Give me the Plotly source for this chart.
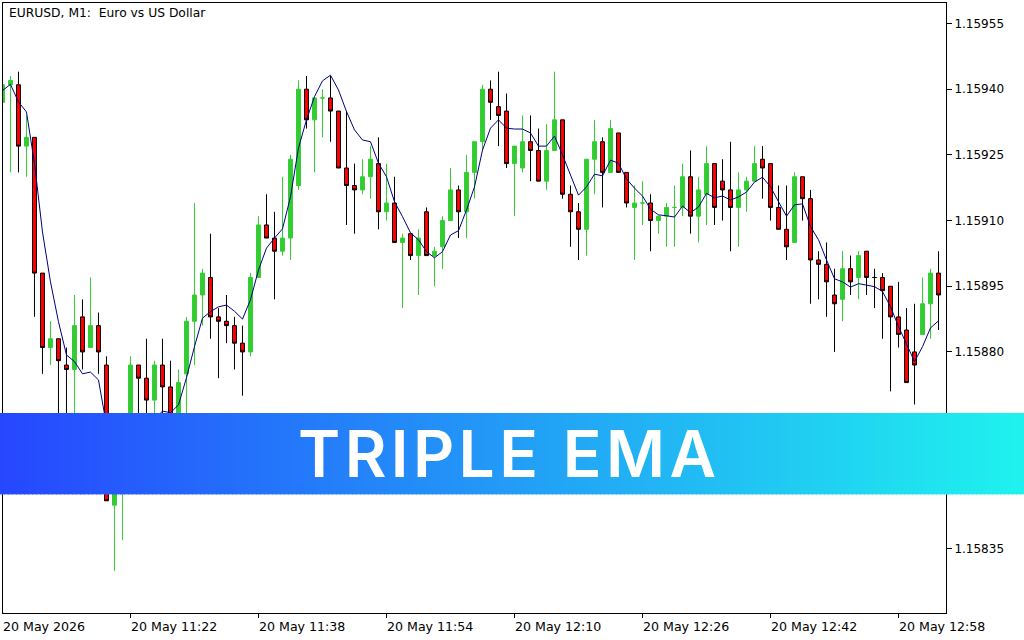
# Triple EMA indicator on a EURUSD M1 candle chart, with the title banner on top.

import pandas as pd
import plotly.graph_objects as go

PAIR_TITLE = "EURUSD, M1:  Euro vs US Dollar"
BANNER_TEXT = "TRIPLE EMA"
FIRST_BAR = "2026-05-20 11:06"

open_px = [
    1.15937, 1.15941, 1.15941, 1.15927, 1.15929, 1.15898, 1.15881, 1.15883, 1.15877, 1.15876,
    1.15888, 1.15881, 1.15886, 1.15877, 1.15845, 1.15853, 1.15863, 1.15877, 1.15874, 1.15869,
    1.15877, 1.15872, 1.15865, 1.15875, 1.15887, 1.15893, 1.15897, 1.15888, 1.15887, 1.15886,
    1.15882, 1.15880, 1.15897, 1.15909, 1.15906, 1.15903, 1.15906, 1.15918, 1.15940, 1.15933,
    1.15938, 1.15938, 1.15935, 1.15922, 1.15918, 1.15917, 1.15920, 1.15923, 1.15912, 1.15914,
    1.15905, 1.15907, 1.15902, 1.15912, 1.15902, 1.15904, 1.15910, 1.15917, 1.15912, 1.15921,
    1.15928, 1.15940, 1.15936, 1.15935, 1.15923, 1.15922, 1.15928, 1.15926, 1.15919, 1.15926,
    1.15933, 1.15916, 1.15912, 1.15908, 1.15924, 1.15928, 1.15921, 1.15930, 1.15921, 1.15913,
    1.15914, 1.15914, 1.15910, 1.15911, 1.15913, 1.15913, 1.15920, 1.15911, 1.15916, 1.15923,
    1.15919, 1.15917, 1.15913, 1.15917, 1.15919, 1.15924, 1.15923, 1.15913, 1.15908, 1.15905,
    1.15920, 1.15915, 1.15901, 1.15900, 1.15893, 1.15892, 1.15899, 1.15897, 1.15903, 1.15897,
    1.15897, 1.15895, 1.15888, 1.15885, 1.15880, 1.15884, 1.15891, 1.15898,
]
high_px = [
    1.15942, 1.15943, 1.15944, 1.15934, 1.15929, 1.15898, 1.15887, 1.15883, 1.15881, 1.15893,
    1.15892, 1.15897, 1.15889, 1.15879, 1.15863, 1.15864, 1.15879, 1.15877, 1.15883, 1.15878,
    1.15883, 1.15878, 1.15876, 1.15888, 1.15914, 1.15899, 1.15907, 1.15890, 1.15893, 1.15888,
    1.15886, 1.15898, 1.15911, 1.15916, 1.15912, 1.15920, 1.15925, 1.15942, 1.15943, 1.15938,
    1.15940, 1.15943, 1.15935, 1.15935, 1.15923, 1.15924, 1.15927, 1.15929, 1.15923, 1.15920,
    1.15907, 1.15907, 1.15908, 1.15913, 1.15904, 1.15911, 1.15922, 1.15918, 1.15925, 1.15928,
    1.15941, 1.15942, 1.15944, 1.15939, 1.15927, 1.15934, 1.15934, 1.15931, 1.15932, 1.15944,
    1.15933, 1.15918, 1.15914, 1.15924, 1.15933, 1.15929, 1.15933, 1.15930, 1.15921, 1.15918,
    1.15919, 1.15916, 1.15911, 1.15914, 1.15918, 1.15923, 1.15926, 1.15920, 1.15927, 1.15923,
    1.15924, 1.15928, 1.15921, 1.15920, 1.15927, 1.15927, 1.15923, 1.15918, 1.15918, 1.15921,
    1.15920, 1.15917, 1.15903, 1.15905, 1.15899, 1.15903, 1.15902, 1.15903, 1.15903, 1.15899,
    1.15898, 1.15895, 1.15896, 1.15890, 1.15891, 1.15897, 1.15899, 1.15903,
]
low_px = [
    1.15936, 1.15921, 1.15921, 1.15920, 1.15888, 1.15875, 1.15877, 1.15863, 1.15860, 1.15865,
    1.15876, 1.15881, 1.15875, 1.15846, 1.15830, 1.15837, 1.15859, 1.15863, 1.15863, 1.15863,
    1.15865, 1.15861, 1.15863, 1.15865, 1.15877, 1.15886, 1.15883, 1.15874, 1.15882, 1.15876,
    1.15870, 1.15879, 1.15897, 1.15906, 1.15892, 1.15902, 1.15901, 1.15917, 1.15931, 1.15921,
    1.15929, 1.15928, 1.15922, 1.15909, 1.15907, 1.15916, 1.15915, 1.15908, 1.15910, 1.15905,
    1.15890, 1.15901, 1.15893, 1.15902, 1.15895, 1.15899, 1.15910, 1.15906, 1.15906, 1.15915,
    1.15926, 1.15933, 1.15927, 1.15922, 1.15911, 1.15921, 1.15919, 1.15919, 1.15917, 1.15926,
    1.15915, 1.15904, 1.15901, 1.15902, 1.15916, 1.15913, 1.15921, 1.15921, 1.15913, 1.15901,
    1.15909, 1.15903, 1.15907, 1.15904, 1.15904, 1.15911, 1.15907, 1.15905, 1.15909, 1.15909,
    1.15910, 1.15903, 1.15904, 1.15912, 1.15919, 1.15915, 1.15910, 1.15908, 1.15901, 1.15905,
    1.15910, 1.15891, 1.15892, 1.15888, 1.15880, 1.15887, 1.15893, 1.15892, 1.15893, 1.15890,
    1.15883, 1.15871, 1.15881, 1.15873, 1.15868, 1.15884, 1.15883, 1.15885,
]
close_px = [
    1.15941, 1.15942, 1.15927, 1.15929, 1.15898, 1.15881, 1.15883, 1.15878, 1.15876, 1.15886,
    1.15880, 1.15886, 1.15880, 1.15846, 1.15857, 1.15861, 1.15877, 1.15874, 1.15869, 1.15877,
    1.15872, 1.15863, 1.15873, 1.15887, 1.15893, 1.15898, 1.15888, 1.15887, 1.15886, 1.15882,
    1.15880, 1.15897, 1.15909, 1.15906, 1.15903, 1.15906, 1.15924, 1.15940, 1.15933, 1.15938,
    1.15938, 1.15935, 1.15922, 1.15918, 1.15917, 1.15920, 1.15924, 1.15912, 1.15914, 1.15905,
    1.15906, 1.15902, 1.15906, 1.15902, 1.15903, 1.15910, 1.15917, 1.15912, 1.15921, 1.15928,
    1.15940, 1.15937, 1.15934, 1.15923, 1.15927, 1.15928, 1.15926, 1.15919, 1.15926, 1.15933,
    1.15916, 1.15912, 1.15908, 1.15924, 1.15928, 1.15921, 1.15931, 1.15921, 1.15914, 1.15914,
    1.15914, 1.15910, 1.15911, 1.15913, 1.15913, 1.15920, 1.15911, 1.15917, 1.15923, 1.15913,
    1.15917, 1.15913, 1.15917, 1.15919, 1.15923, 1.15922, 1.15913, 1.15908, 1.15904, 1.15920,
    1.15915, 1.15901, 1.15900, 1.15896, 1.15891, 1.15899, 1.15896, 1.15902, 1.15897, 1.15897,
    1.15894, 1.15888, 1.15884, 1.15873, 1.15877, 1.15891, 1.15898, 1.15893,
]
tema_px = [
    1.159397, 1.159411, 1.159371, 1.159348, 1.159231, 1.159074, 1.158960, 1.158869, 1.158793, 1.158778,
    1.158750, 1.158754, 1.158736, 1.158633, 1.158587, 1.158599, 1.158622, 1.158633, 1.158633, 1.158645,
    1.158665, 1.158661, 1.158679, 1.158741, 1.158812, 1.158877, 1.158892, 1.158903, 1.158907, 1.158893,
    1.158875, 1.158919, 1.158987, 1.159037, 1.159060, 1.159081, 1.159154, 1.159266, 1.159330, 1.159383,
    1.159419, 1.159432, 1.159398, 1.159349, 1.159307, 1.159284, 1.159280, 1.159231, 1.159200, 1.159143,
    1.159109, 1.159072, 1.159056, 1.159029, 1.159015, 1.159029, 1.159067, 1.159077, 1.159124, 1.159177,
    1.159261, 1.159311, 1.159330, 1.159311, 1.159309, 1.159309, 1.159300, 1.159270, 1.159270, 1.159293,
    1.159250, 1.159204, 1.159158, 1.159177, 1.159206, 1.159202, 1.159238, 1.159231, 1.159195, 1.159174,
    1.159156, 1.159126, 1.159113, 1.159111, 1.159108, 1.159133, 1.159118, 1.159131, 1.159162, 1.159152,
    1.159156, 1.159147, 1.159154, 1.159165, 1.159188, 1.159199, 1.159177, 1.159143, 1.159110, 1.159136,
    1.159138, 1.159086, 1.159056, 1.159010, 1.158967, 1.158960, 1.158948, 1.158956, 1.158953, 1.158949,
    1.158938, 1.158903, 1.158858, 1.158816, 1.158778, 1.158812, 1.158855, 1.158871,
]

price_ticks = [1.15835, 1.15850, 1.15865, 1.15880, 1.15895, 1.15910, 1.15925, 1.15940, 1.15955]
time_ticks = ["11:06", "11:22", "11:38", "11:54", "12:10", "12:26", "12:42", "12:58"]
time_labels = [
    "20 May 2026", "20 May 11:22", "20 May 11:38", "20 May 11:54",
    "20 May 12:10", "20 May 12:26", "20 May 12:42", "20 May 12:58",
]

times = pd.date_range(FIRST_BAR, periods=len(close_px), freq="min")

fig = go.Figure()
fig.add_trace(go.Candlestick(
    x=times,
    open=open_px,
    high=high_px,
    low=low_px,
    close=close_px,
    increasing=dict(line=dict(color="#32CD32", width=1), fillcolor="#32CD32"),
    decreasing=dict(line=dict(color="#000000", width=1), fillcolor="#FF0000"),
    whiskerwidth=0,
    showlegend=False,
))
fig.add_trace(go.Scatter(
    x=times,
    y=tema_px,
    mode="lines",
    line=dict(color="#000080", width=1),
    showlegend=False,
))

# Time labels start at their tick, which Plotly tick labels cannot do.
# The 4 s keeps the first one inside the axis range, it would be dropped otherwise.
time_annotations = [
    dict(
        x=f"2026-05-20 {tick}:04",
        y=0,
        xref="x",
        yref="paper",
        text=label,
        showarrow=False,
        xanchor="left",
        yanchor="top",
        xshift=-2,
        yshift=-4,
        font=dict(family="DejaVu Sans", size=12.6, color="#000000"),
    )
    for tick, label in zip(time_ticks, time_labels)
]

# Banner gradient as overlapping strips, shapes have no gradient fill.
LEFT_RGB = (38, 71, 255)
RIGHT_RGB = (31, 242, 238)
STRIPS = 256
PLOT_L, PLOT_R, PLOT_T, PLOT_B = 3, 946, 3, 613
banner_shapes = []
for i in range(STRIPS):
    share = i / (STRIPS - 1)
    rgb = [round(a + (b - a) * share) for a, b in zip(LEFT_RGB, RIGHT_RGB)]
    x0 = 1024 * i / STRIPS
    x1 = 1024 * (i + 1) / STRIPS + 1
    banner_shapes.append(dict(
        type="rect",
        xref="paper",
        yref="paper",
        x0=(x0 - PLOT_L) / (PLOT_R - PLOT_L),
        x1=(x1 - PLOT_L) / (PLOT_R - PLOT_L),
        y0=(PLOT_B - 494.4) / (PLOT_B - PLOT_T),
        y1=(PLOT_B - 413) / (PLOT_B - PLOT_T),
        fillcolor=f"rgb({rgb[0]},{rgb[1]},{rgb[2]})",
        line=dict(width=0),
        layer="above",
    ))

fig.update_layout(
    width=1024,
    height=640,
    margin=dict(l=PLOT_L, r=1024 - PLOT_R, t=PLOT_T, b=640 - PLOT_B, pad=0),
    paper_bgcolor="#FFFFFF",
    plot_bgcolor="#FFFFFF",
    boxgap=0.3,
    boxgroupgap=0.3,
    shapes=banner_shapes,
    annotations=time_annotations + [
        dict(
            x=(7 - PLOT_L) / (PLOT_R - PLOT_L),
            y=(PLOT_B - 13) / (PLOT_B - PLOT_T),
            xref="paper",
            yref="paper",
            text=PAIR_TITLE,
            showarrow=False,
            xanchor="left",
            yanchor="middle",
            font=dict(family="DejaVu Sans", size=12.3, color="#000000"),
        ),
        dict(
            x=(509 - PLOT_L) / (PLOT_R - PLOT_L),
            y=(PLOT_B - 453.5) / (PLOT_B - PLOT_T),
            xref="paper",
            yref="paper",
            text=BANNER_TEXT,
            showarrow=False,
            xanchor="center",
            yanchor="middle",
            font=dict(family="Inter", size=64, color="#FFFFFF", weight=600),
        ),
    ],
)
fig.update_xaxes(
    type="date",
    range=["2026-05-20 11:06:04", "2026-05-20 13:03:56"],
    rangeslider_visible=False,
    showgrid=False,
    zeroline=False,
    showline=True,
    mirror=True,
    linecolor="#000000",
    linewidth=1,
    ticks="outside",
    ticklen=4,
    tickwidth=1,
    tickcolor="#000000",
    tickvals=[f"2026-05-20 {tick}" for tick in time_ticks],
    showticklabels=False,
)
fig.update_yaxes(
    side="right",
    range=[1.1582038, 1.1595968],
    showgrid=False,
    zeroline=False,
    showline=True,
    mirror=True,
    linecolor="#000000",
    linewidth=1,
    ticks="outside",
    ticklen=5,
    tickwidth=1,
    tickcolor="#000000",
    tickvals=price_ticks,
    tickformat=".5f",
    tickfont=dict(family="DejaVu Sans", size=12, color="#000000"),
)

# Drop the page margin, and widen the banner lettering since no installed font is that wide.
PAGE_FIX = """
document.body.style.margin = '0';
document.querySelectorAll('.annotation-text').forEach(function (el) {
    if (el.textContent === 'TRIPLE EMA') { el.style.letterSpacing = '4.4px'; }
});
"""

fig.write_html("out.html", config={"displayModeBar": False}, post_script=PAGE_FIX)
